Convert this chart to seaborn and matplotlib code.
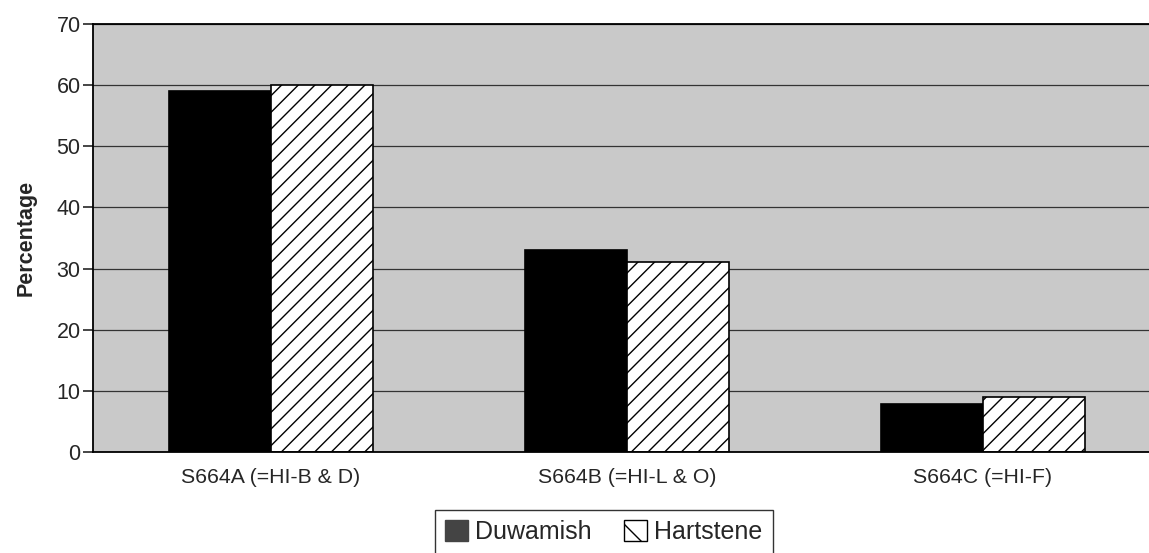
import matplotlib
matplotlib.use("Agg")
import matplotlib.pyplot as plt
import seaborn as sns
import pandas as pd
from matplotlib.patches import Patch

categories = ["S664A (=HI-B & D)", "S664B (=HI-L & O)", "S664C (=HI-F)"]
series = ["Duwamish", "Hartstene"]
duwamish = [59, 33, 7.8]
hartstene = [60, 31, 9]
yticks = [0, 10, 20, 30, 40, 50, 60, 70]

df = pd.DataFrame({
    "cat": categories * 2,
    "series": [series[0]] * 3 + [series[1]] * 3,
    "val": duwamish + hartstene,
})

sns.set_style("white")
plt.rcParams["font.family"] = ["Liberation Sans", "DejaVu Sans"]
plt.rcParams["hatch.linewidth"] = 1.0

fig = plt.figure(figsize=(11.49, 5.53), dpi=100)
ax = fig.add_axes([93 / 1149, 1 - 452 / 553, 1 - 93 / 1149, (452 - 24) / 553])
ax.set_facecolor("#c9c9c9")

sns.barplot(data=df, x="cat", y="val", hue="series", order=categories,
            hue_order=series, palette=["black", "white"], width=0.575,
            edgecolor="black", linewidth=1.2, ax=ax, saturation=1, legend=False)

for p in ax.patches[3:6]:
    p.set_hatch("//")

ax.set_ylim(0, 70)
ax.set_yticks(yticks)
ax.set_xlim(-0.5, 2.5 - 12 / 356.5)
ax.yaxis.grid(True, color="#333333", linewidth=0.9)
ax.set_axisbelow(True)
for s in ["left", "top", "bottom"]:
    ax.spines[s].set_visible(True)
    ax.spines[s].set_color("black")
    ax.spines[s].set_linewidth(1.3)
ax.spines["right"].set_visible(False)
ax.tick_params(axis="y", which="both", left=True, length=7, width=1.2, labelsize=15.5, pad=2)
ax.tick_params(axis="x", bottom=False, labelsize=15.3, pad=8)
ax.set_xlabel("")
ax.set_ylabel("Percentage", fontsize=15.5, fontweight="bold", labelpad=14)

handles = [Patch(facecolor="#444444", edgecolor="#444444", label="Duwamish"),
           Patch(facecolor="white", edgecolor="black", hatch="\\", label="Hartstene")]
leg = fig.legend(handles=handles, loc="upper center", bbox_to_anchor=(604 / 1149, 1 - 510 / 553),
                 ncol=2, fontsize=18, frameon=True, fancybox=False, edgecolor="black",
                 handlelength=0.9, handleheight=0.9, columnspacing=1.3, handletextpad=0.3,
                 borderpad=0.4, borderaxespad=0)
leg.get_frame().set_linewidth(1.0)

fig.savefig("out.png", dpi=100, facecolor="white")
